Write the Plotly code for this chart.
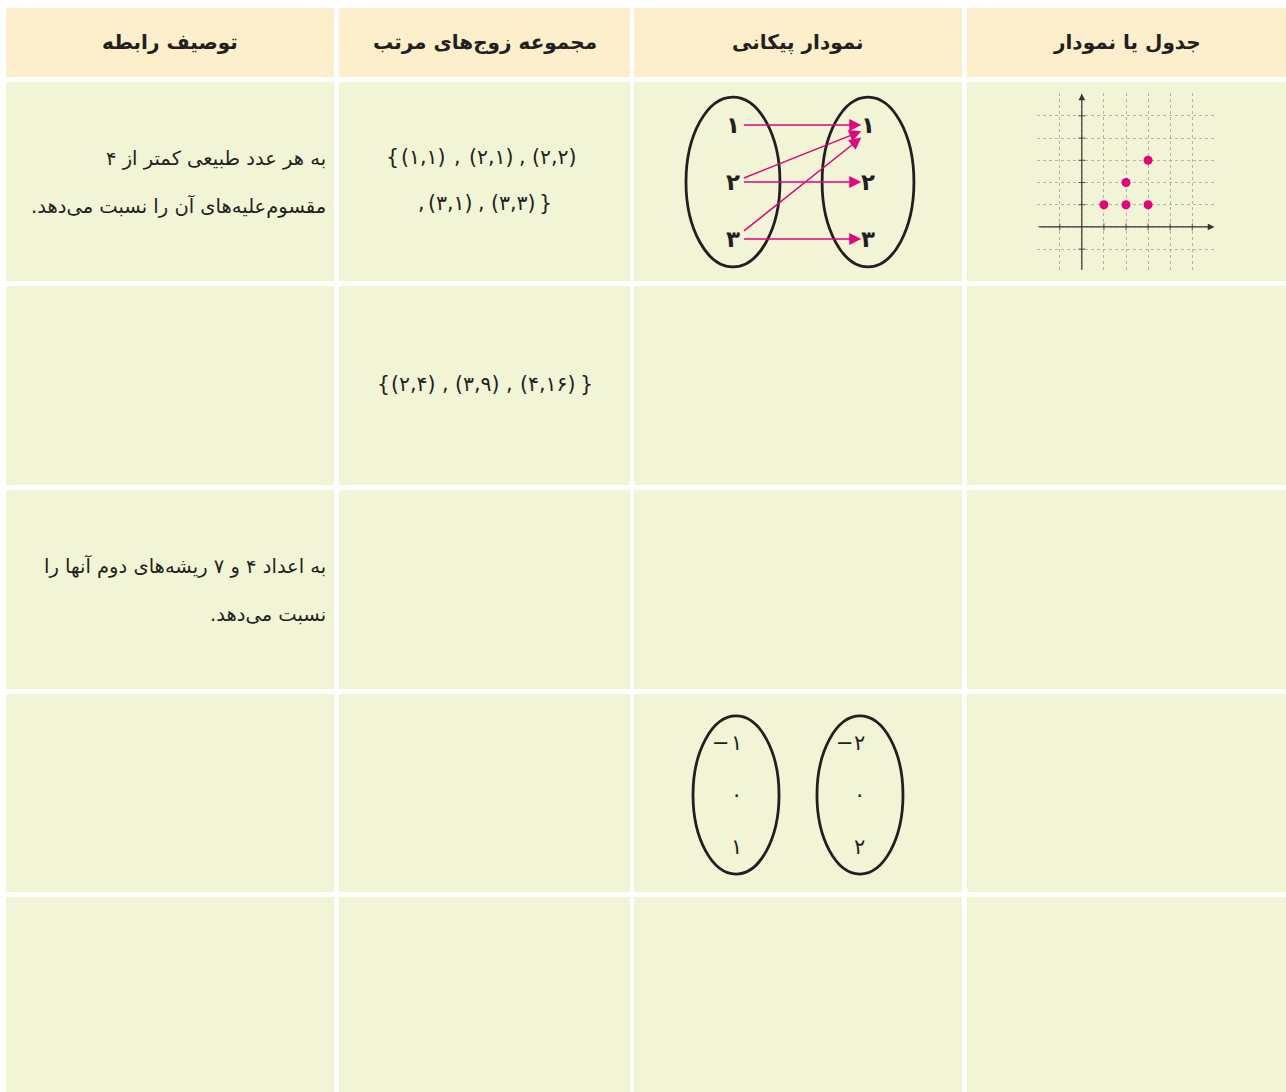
import plotly.graph_objects as go

W, H = 1286, 1092
FONT = "DejaVu Sans"
INK = "#231F20"
PINK = "#E6007E"
HEAD_BG = "#FDEFCB"
CELL_BG = "#F1F5D6"

fa = str.maketrans("0123456789", "۰۱۲۳۴۵۶۷۸۹")
RLM = "\u200f"   # keeps the final period of a Persian line on the left
LRM = "\u200e"   # keeps single braces from being mirrored

# column headers, left to right as printed
headers = ["توصیف رابطه", "مجموعه زوج‌های مرتب", "نمودار پیکانی", "جدول یا نمودار"]

# text of the description column
desc_row1 = ["به هر عدد طبیعی کمتر از ۴", "مقسوم‌علیه‌های آن را نسبت می‌دهد."]
desc_row3 = ["به اعداد ۴ و ۷ ریشه‌های دوم آنها را", "نسبت می‌دهد."]

# relation of the first row (also listed as ordered pairs)
domain1 = [1, 2, 3]
codomain1 = [1, 2, 3]
rel_x = [1, 2, 2, 3, 3]
rel_y = [1, 1, 2, 1, 3]

# ordered pairs of the second row
sq_x = [2, 3, 4]
sq_y = [4, 9, 16]

# sets of the fourth row arrow diagram (no arrows drawn)
domain4 = [-1, 0, 1]
codomain4 = [-2, 0, 2]

# grid of the graph cell
grid_min, grid_max = -2, 6

# table layout in pixels
col_edges = [(6, 334), (339, 630), (634, 962), (967, 1286)]
row_edges = [(8, 77), (82, 281), (286, 485), (490, 689), (694, 892), (897, 1092)]


def xdom(a, b):
    return [a / W, b / W]


def ydom(a, b):
    return [1 - b / H, 1 - a / H]


def fa_num(v):
    return str(abs(v)).translate(fa)


fig = go.Figure()

# cells
shapes = []
for ri, (y0, y1) in enumerate(row_edges):
    for (x0, x1) in col_edges:
        shapes.append(dict(type="rect", xref="x", yref="y", x0=x0, x1=x1, y0=y0, y1=y1,
                           fillcolor=HEAD_BG if ri == 0 else CELL_BG, line_width=0, layer="below"))

annotations = []


def txt(x, y, s, size=18, bold=False, xanchor="center", xref="x", yref="y", color=INK):
    font = dict(family=FONT, size=size, color=color)
    if bold:
        font["weight"] = 700
    annotations.append(dict(x=x, y=y, xref=xref, yref=yref, text=s, showarrow=False,
                            xanchor=xanchor, yanchor="middle", font=font))


# headers
for (x0, x1), h in zip(col_edges, headers):
    txt((x0 + x1) / 2, 42, RLM + h + RLM, size=20, bold=True)

# description column
for i, line in enumerate(desc_row1):
    txt(328, 158 + i * 48, RLM + line + RLM, size=19.5, xanchor="right")
for i, line in enumerate(desc_row3):
    txt(328, 566 + i * 48, RLM + line + RLM, size=19.5, xanchor="right")

# ordered pairs column: each pair, comma and brace placed on its own so the
# left-to-right order never depends on bidi handling
PS = 20.5
pair_txt = lambda a, b: "(" + fa_num(a) + "," + fa_num(b) + ")"
# row 1, line 1: { p0 , p1 , p2      line 2: , p3 , p4 }
row1_slots = [(423, 157), (491, 157), (554, 157), (450, 203), (513, 203)]
for (a, b), (px, py) in zip(zip(rel_x, rel_y), row1_slots):
    txt(px, py, pair_txt(a, b), size=PS)
for px, py in [(457, 157), (522, 157), (421, 203), (481, 203)]:
    txt(px, py, ",", size=PS)
txt(392, 157, LRM + "{" + LRM, size=PS)
txt(545, 203, LRM + "}" + LRM, size=PS)
# row 2
row2_slots = [413, 477, 548]
for (a, b), px in zip(zip(sq_x, sq_y), row2_slots):
    txt(px, 384, pair_txt(a, b), size=PS)
for px in [445, 509]:
    txt(px, 384, ",", size=PS)
txt(383, 384, LRM + "{" + LRM, size=PS)
txt(586, 384, LRM + "}" + LRM, size=PS)

# ---------------- graph cell (x2/y2) ----------------
fig.add_trace(go.Scatter(x=rel_x, y=rel_y, mode="markers", xaxis="x2", yaxis="y2",
                         marker=dict(color=PINK, size=9), hoverinfo="skip"))
ticks = [k for k in range(grid_min + 1, grid_max) if k != 0]
fig.add_trace(go.Scatter(x=[0] * len(ticks), y=ticks, mode="markers", xaxis="x2", yaxis="y2",
                         marker=dict(symbol="line-ew", size=5, line=dict(color="#555", width=1)),
                         hoverinfo="skip"))
fig.add_trace(go.Scatter(x=ticks, y=[0] * len(ticks), mode="markers", xaxis="x2", yaxis="y2",
                         marker=dict(symbol="line-ns", size=5, line=dict(color="#555", width=1)),
                         hoverinfo="skip"))
for (hx, hy, tx, ty) in [(grid_max, 0, grid_min, 0), (0, grid_max, 0, grid_min)]:
    annotations.append(dict(x=hx, y=hy, ax=tx, ay=ty, xref="x2", yref="y2", axref="x2", ayref="y2",
                            text="", showarrow=True, arrowhead=2, arrowsize=1.1, arrowwidth=1.2,
                            arrowcolor="#333", standoff=0))

# ---------------- arrow diagram row 1 (x3/y3) ----------------
for i, v in enumerate(domain1):
    txt(0, i, fa_num(v), size=23, bold=True, xref="x3", yref="y3")
for i, v in enumerate(codomain1):
    txt(1, i, fa_num(v), size=23, bold=True, xref="x3", yref="y3")
for a, b in zip(rel_x, rel_y):
    ia, ib = domain1.index(a), codomain1.index(b)
    annotations.append(dict(x=0.95, y=ib + 0.11 * (ia - ib), ax=0.07, ay=ia - 0.06 * (ia - ib),
                            xref="x3", yref="y3", axref="x3", ayref="y3",
                            text="", showarrow=True, arrowhead=2, arrowsize=1.6, arrowwidth=1.5,
                            arrowcolor=PINK, standoff=0))
for cx, hw in [(0, 0.348), (1, 0.34)]:
    shapes.append(dict(type="circle", xref="x3", yref="y3", x0=cx - hw, x1=cx + hw,
                       y0=1 - 1.49, y1=1 + 1.49, line=dict(color=INK, width=2.8)))

# ---------------- arrow diagram row 4 (x4/y4) ----------------
for cx, values in [(0, domain4), (1, codomain4)]:
    for i, v in enumerate(values):
        txt(cx, i, fa_num(v), size=21, xref="x4", yref="y4")
        if v < 0:
            txt(cx - 0.12, i, "−", size=21, xref="x4", yref="y4")
for cx in [0, 1]:
    shapes.append(dict(type="circle", xref="x4", yref="y4", x0=cx - 0.347, x1=cx + 0.347,
                       y0=1 - 1.52, y1=1 + 1.52, line=dict(color=INK, width=2.8)))

hidden = dict(visible=False, fixedrange=True)
grid_axis = dict(dtick=1, tick0=0, showgrid=True, gridcolor="#b3b3b3", griddash="dot", gridwidth=1,
                 zeroline=False, showticklabels=False, ticks="", showline=False, fixedrange=True)
fig.update_layout(
    width=W, height=H, margin=dict(l=0, r=0, t=0, b=0),
    paper_bgcolor="white", plot_bgcolor="rgba(0,0,0,0)", showlegend=False,
    xaxis=dict(range=[0, W], domain=[0, 1], **hidden),
    yaxis=dict(range=[H, 0], domain=[0, 1], **hidden),
    xaxis2=dict(range=[grid_min - 0.03, grid_max + 0.03], domain=xdom(1037, 1215), anchor="y2", **grid_axis),
    yaxis2=dict(range=[grid_min - 0.03, grid_max + 0.03], domain=ydom(93, 272), anchor="x2", **grid_axis),
    xaxis3=dict(range=[-0.733, 1.696], domain=xdom(634, 962), anchor="y3", **hidden),
    yaxis3=dict(range=[2.737, -0.754], domain=ydom(82, 281), anchor="x3", **hidden),
    xaxis4=dict(range=[-0.823, 1.823], domain=xdom(634, 962), anchor="y4", **hidden),
    yaxis4=dict(range=[2.865, -0.942], domain=ydom(694, 892), anchor="x4", **hidden),
    shapes=shapes, annotations=annotations,
)

# page body has an 8px default margin; drop it so the figure sits at the window origin
fig.write_html("out.html", post_script="document.body.style.margin='0';",
               config={"displayModeBar": False})
